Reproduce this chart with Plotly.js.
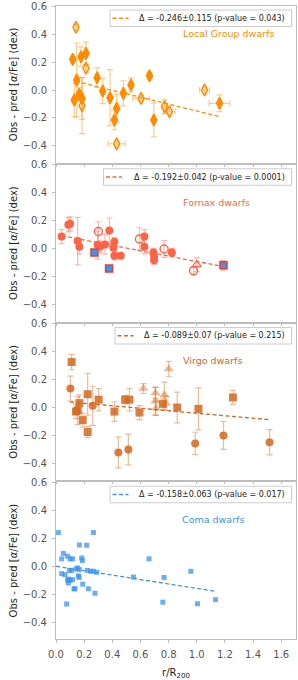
<!DOCTYPE html>
<html><head><meta charset="utf-8">
<script src="https://cdn.plot.ly/plotly-3.0.1.min.js"></script>
<style>html,body{margin:0;padding:0;background:#fff}#chart{width:298px;height:680px}</style>
</head><body><div id="chart"></div>
<script>
// ---------------- DATA ----------------
// Local Group dwarfs
const lgFilledX  = [0.119, 0.147, 0.130, 0.166, 0.185, 0.178, 0.213, 0.292, 0.332, 0.384, 0.431, 0.415, 0.479, 0.533, 0.664, 0.695, 1.162];
const lgFilledY  = [0.219, 0.071, -0.071, -0.031, -0.060, 0.238, 0.262, 0.088, -0.007, -0.055, -0.131, -0.214, -0.024, 0.036, 0.102, -0.214, -0.095];
const lgFilledEy = [0.02, 0.265, 0.12, 0.05, 0.15, 0.07, 0.08, 0.07, 0.09, 0.20, 0.10, 0.07, 0.09, 0.05, 0.02, 0.12, 0.06];
const lgFilledEx = [0, 0, 0, 0, 0, 0, 0, 0, 0, 0, 0, 0, 0, 0, 0, 0, 0.074];
const lgOpenX  = [0.142, 0.213, 0.185, 0.431, 0.605, 0.771, 0.806, 1.055];
const lgOpenY  = [0.448, 0.155, -0.112, -0.385, -0.060, -0.119, -0.155, 0.000];
const lgOpenEy = [0.02, 0.03, 0.20, 0.02, 0.02, 0.05, 0.02, 0.02];
const lgOpenEx = [0, 0, 0, 0.06, 0.06, 0.02, 0.04, 0.035];

// Fornax dwarfs
const fxFilledX  = [0.040, 0.088, 0.100, 0.154, 0.166, 0.296, 0.313, 0.348, 0.379, 0.408, 0.415, 0.415, 0.460, 0.628, 0.628, 0.692, 0.697, 0.697, 0.823];
const fxFilledY  = [0.087, 0.171, 0.178, 0.055, 0.014, 0.026, 0.014, 0.031, 0.130, 0.007, 0.050, -0.050, -0.050, 0.087, 0.014, -0.027, -0.058, -0.082, -0.027];
const fxFilledEy = [0.05, 0.05, 0.05, 0.17, 0.05, 0.10, 0.04, 0.07, 0.09, 0.05, 0.03, 0.03, 0.02, 0.05, 0.05, 0.03, 0.03, 0.03, 0.03];
const fxOpenX  = [0.301, 0.593, 0.768, 0.977];
const fxOpenY  = [0.123, 0.070, -0.002, -0.157];
const fxOpenEy = [0.07, 0.08, 0.06, 0.03];
const fxTriX  = [1.000];
const fxTriY  = [-0.113];
const fxTriEy = [0.05];
const fxSqX  = [0.273, 0.377, 1.190];
const fxSqY  = [-0.027, -0.142, -0.118];
const fxSqEy = [0.02, 0.02, 0.035];

// Virgo dwarfs
const vgSqX  = [0.111, 0.142, 0.154, 0.166, 0.190, 0.225, 0.225, 0.303, 0.415, 0.491, 0.522, 0.593, 0.759, 0.861, 1.012, 1.257];
const vgSqY  = [0.325, -0.029, -0.022, 0.031, -0.090, 0.095, -0.175, 0.056, -0.029, 0.056, 0.056, -0.036, 0.027, 0.000, -0.010, 0.072];
const vgSqEy = [0.055, 0.05, 0.10, 0.06, 0.05, 0.15, 0.04, 0.08, 0.07, 0.03, 0.08, 0.05, 0.04, 0.11, 0.15, 0.05];
const vgCircX  = [0.102, 0.261, 0.443, 0.514, 0.989, 1.190, 1.517];
const vgCircY  = [0.135, 0.012, -0.322, -0.300, -0.257, -0.200, -0.248];
const vgCircEy = [0.09, 0.14, 0.11, 0.11, 0.08, 0.10, 0.09];
const vgTriX  = [0.621, 0.706, 0.706, 0.711, 0.770, 0.782, 0.801];
const vgTriY  = [0.135, 0.104, 0.044, -0.005, 0.091, 0.030, 0.275];
const vgTriEy = [0.035, 0.04, 0.10, 0.05, 0.09, 0.05, 0.055];

// Coma dwarfs
const cmX = [0.017, 0.040, 0.052, 0.040, 0.064, 0.081, 0.076, 0.088, 0.100, 0.118, 0.095, 0.111, 0.083, 0.100, 0.118, 0.128, 0.135, 0.088, 0.142, 0.154, 0.166, 0.159, 0.164, 0.166, 0.183, 0.187, 0.190, 0.218, 0.223, 0.230, 0.247, 0.266, 0.266, 0.277, 0.289, 0.550, 0.661, 0.759, 0.768, 0.958, 1.005, 1.133];
const cmY = [0.241, 0.053, 0.092, -0.053, -0.060, 0.072, -0.270, -0.092, 0.053, 0.053, -0.030, -0.030, -0.100, -0.100, -0.096, -0.161, -0.161, -0.120, -0.019, -0.012, 0.152, -0.068, -0.080, -0.024, 0.059, 0.040, -0.128, 0.150, -0.030, -0.161, -0.036, 0.241, -0.036, -0.193, -0.043, -0.077, 0.053, -0.257, -0.080, -0.036, -0.268, -0.239];

// Linear fits: slope, intercept, x-extent
const fitSlope = [-0.246, -0.192, -0.089, -0.158];
const fitIntercept = [0.096, 0.101, 0.048, 0.000];
const fitXStart = [0.14, 0.04, 0.10, 0.00];
const fitXEnd = [1.16, 1.19, 1.52, 1.13];
const fitLabels = [
  'Δ = -0.246±0.115 (p-value = 0.043)',
  'Δ = -0.192±0.042 (p-value = 0.0001)',
  'Δ = -0.089±0.07 (p-value = 0.215)',
  'Δ = -0.158±0.063 (p-value = 0.017)'
];
const panelNames = ['Local Group dwarfs', 'Fornax dwarfs', 'Virgo dwarfs', 'Coma dwarfs'];
const yTicks = [-0.4, -0.2, 0.0, 0.2, 0.4, 0.6];
const xTicks = [0.0, 0.2, 0.4, 0.6, 0.8, 1.0, 1.2, 1.4, 1.6];

// ---------------- STYLE ----------------
const colors = ['#FF8C00', '#FF6347', '#D2691E', '#3a93f0'];
const errColors = ['rgba(255,140,0,0.45)', 'rgba(255,99,71,0.45)', 'rgba(210,105,30,0.45)', 'rgba(58,147,240,0.45)'];
const W = 298, H = 680, ML = 56, MR = 2, MT = 6, MB = 41;
const PW = W - ML - MR, PH = H - MT - MB;
const gapPx = 2, hPx = (PH - 3 * gapPx) / 4;
const px = x => (x - ML) / PW;
const py = y => (H - MB - y) / PH;
const panelTop = i => MT + i * (hPx + gapPx);
const legendLeft = [110, 103.5, 115, 110];
const FONT = 'DejaVu Sans, Liberation Sans, sans-serif';

function err(arr, color) {
  return {type: 'data', array: arr, visible: true, color: color, thickness: 1.2, width: 3};
}
function axRef(i) { return i === 0 ? ['x', 'y'] : ['x' + (i + 1), 'y' + (i + 1)]; }

const traces = [];
function addPts(i, xs, ys, ey, ex, marker) {
  const [xa, ya] = axRef(i);
  const t = {x: xs, y: ys, xaxis: xa, yaxis: ya, type: 'scatter', mode: 'markers',
    marker: marker, showlegend: false, hoverinfo: 'skip', cliponaxis: false};
  if (ey) t.error_y = err(ey, errColors[i]);
  if (ex) t.error_x = err(ex, errColors[i]);
  traces.push(t);
}

// fit lines (drawn first, beneath markers)
for (let i = 0; i < 4; i++) {
  const [xa, ya] = axRef(i);
  const xs = [fitXStart[i], fitXEnd[i]];
  traces.push({x: xs, y: xs.map(v => fitIntercept[i] + fitSlope[i] * v), xaxis: xa, yaxis: ya,
    type: 'scatter', mode: 'lines', line: {color: colors[i], width: 1.3, dash: '4px,2.5px'},
    showlegend: false, hoverinfo: 'skip', name: fitLabels[i]});
}

// Local Group
addPts(0, lgFilledX, lgFilledY, lgFilledEy, lgFilledEx,
  {symbol: 'diamond-tall', size: 8.5, color: colors[0], line: {color: colors[0], width: 1.6}});
addPts(0, lgOpenX, lgOpenY, lgOpenEy, lgOpenEx,
  {symbol: 'diamond-tall-open', size: 8.5, color: colors[0], line: {color: colors[0], width: 1.5}});
// Fornax
addPts(1, fxFilledX, fxFilledY, fxFilledEy, null,
  {symbol: 'circle', size: 8, color: colors[1]});
addPts(1, fxOpenX, fxOpenY, fxOpenEy, null,
  {symbol: 'circle-open', size: 8, color: colors[1], line: {color: colors[1], width: 1.4}});
addPts(1, fxTriX, fxTriY, fxTriEy, null,
  {symbol: 'triangle-up-open', size: 8, color: colors[1], line: {color: colors[1], width: 1.2}});
addPts(1, fxSqX, fxSqY, fxSqEy, null,
  {symbol: 'square', size: 7, color: '#3d95ec', line: {color: '#ee3b33', width: 1.5}});
// Virgo
addPts(2, vgTriX, vgTriY, vgTriEy, null,
  {symbol: 'triangle-up', size: 9, color: 'rgba(210,105,30,0.45)'});
addPts(2, vgSqX, vgSqY, vgSqEy, null,
  {symbol: 'square', size: 8, color: 'rgba(210,105,30,0.85)'});
addPts(2, vgCircX, vgCircY, vgCircEy, null,
  {symbol: 'circle', size: 8, color: 'rgba(210,105,30,0.85)'});
// Coma
addPts(3, cmX, cmY, null, null,
  {symbol: 'square', size: 5, color: 'rgba(58,147,240,0.75)'});

// ---------------- LAYOUT ----------------
const layout = {
  width: W, height: H,
  margin: {l: ML, r: MR, t: MT, b: MB, pad: 0},
  paper_bgcolor: '#fff', plot_bgcolor: '#fff',
  font: {family: FONT, size: 10, color: '#222'},
  showlegend: false,
  shapes: [], annotations: []
};
const axisCommon = {
  showgrid: false, zeroline: false, showline: true, mirror: true,
  linecolor: '#bdbdbd', linewidth: 1, ticks: 'outside', ticklen: 3, tickwidth: 1, tickcolor: '#bdbdbd',
  tickfont: {family: FONT, size: 10, color: '#555'}
};
for (let i = 0; i < 4; i++) {
  const top = panelTop(i), bot = top + hPx;
  const sfx = i === 0 ? '' : String(i + 1);
  const [xa, ya] = axRef(i);
  const xax = Object.assign({}, axisCommon, {
    anchor: ya, domain: [0, 1], range: [0, 1.705], tickvals: xTicks, tickformat: '.1f',
    showticklabels: i === 3, ticklabelstandoff: 3
  });
  if (i === 3) xax.title = {text: 'r/R<sub>200</sub>', font: {family: FONT, size: 10, color: '#222'}, standoff: 11};
  layout['xaxis' + sfx] = xax;
  layout['yaxis' + sfx] = Object.assign({}, axisCommon, {
    anchor: xa, domain: [py(bot), py(top)], range: [-0.52, 0.6005], tickvals: yTicks, tickformat: '.1f',
    ticklabelstandoff: 3,
    title: {text: 'Obs - pred [<i>α</i>/Fe] (dex)', font: {family: FONT, size: 10, color: '#222'}, standoff: 3}
  });
  // legend box
  const lt = top + 4, lb = top + 20.5, ll = legendLeft[i], lr = 291.5, lc = (lt + lb) / 2;
  layout.shapes.push({type: 'rect', xref: 'paper', yref: 'paper', x0: px(ll), x1: px(lr), y0: py(lb), y1: py(lt),
    fillcolor: 'rgba(255,255,255,0.85)', line: {color: '#cccccc', width: 1}});
  layout.shapes.push({type: 'line', xref: 'paper', yref: 'paper', x0: px(ll + 2.5), x1: px(ll + 18.5), y0: py(lc), y1: py(lc),
    line: {color: colors[i], width: 1.3, dash: '4px,2.5px'}});
  layout.annotations.push({xref: 'paper', yref: 'paper', x: px(287), y: py(lc), xanchor: 'right', yanchor: 'middle',
    text: fitLabels[i], showarrow: false, font: {family: FONT, size: 8, color: '#222'}});
  // panel label
  const labX = [228, 216.7, 212, 213][i];
  const labY = top + [27.3, 37.7, 36.7, 37][i];
  layout.annotations.push({xref: 'paper', yref: 'paper', x: px(labX), y: py(labY), xanchor: 'center', yanchor: 'middle',
    text: panelNames[i], showarrow: false, font: {family: FONT, size: 9.5, color: colors[i]}});
}

Plotly.newPlot('chart', traces, layout, {displayModeBar: false, staticPlot: true});
</script></body></html>
